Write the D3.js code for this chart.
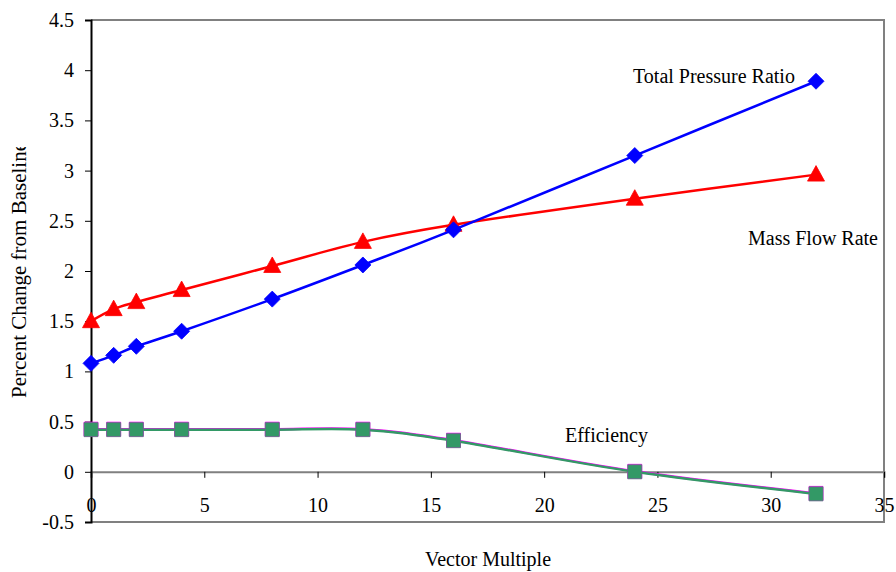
<!DOCTYPE html>
<html>
<head>
<meta charset="utf-8">
<script src="https://cdn.jsdelivr.net/npm/d3@7"></script>
<style>
  body { margin: 0; background: #fff; }
  svg text { font-family: "Liberation Serif", "Times New Roman", serif; }
</style>
</head>
<body>
<svg id="chart"></svg>
<script>
const vectorMultiple = [0, 1, 2, 4, 8, 12, 16, 24, 32];
const totalPressureRatio = [1.08, 1.16, 1.25, 1.40, 1.72, 2.06, 2.41, 3.15, 3.89];
const massFlowRate = [1.50, 1.62, 1.69, 1.81, 2.05, 2.29, 2.46, 2.72, 2.96];
const efficiencyA = [0.425, 0.425, 0.425, 0.425, 0.425, 0.425, 0.315, 0.005, -0.215];
const efficiencyB = [0.42, 0.42, 0.42, 0.42, 0.42, 0.42, 0.31, 0.00, -0.22];
const xTicks = [0, 5, 10, 15, 20, 25, 30, 35];
const yTicks = [-0.5, 0, 0.5, 1, 1.5, 2, 2.5, 3, 3.5, 4, 4.5];

const width = 896, height = 572;
const margin = {top: 20, right: 12, bottom: 50, left: 91};

const svg = d3.select("#chart")
    .attr("width", width)
    .attr("height", height);

const x = d3.scaleLinear().domain([0, 35]).range([margin.left, width - margin.right]);
const y = d3.scaleLinear().domain([-0.5, 4.5]).range([height - margin.bottom, margin.top]);

// plot frame (gray top, right, bottom)
svg.append("path")
    .attr("d", `M${x(0)},${y(4.5)}H${x(35)}V${y(-0.5)}H${x(0)}`)
    .attr("fill", "none")
    .attr("stroke", "#808080")
    .attr("stroke-width", 2);

// x axis sits on y = 0
const xAxis = svg.append("g")
    .attr("transform", `translate(0,${y(0)})`)
    .call(d3.axisBottom(x).tickValues(xTicks).tickSize(6).tickPadding(20).tickFormat(d3.format("d")));
xAxis.select(".domain").attr("stroke", "#808080").attr("stroke-width", 2);
xAxis.selectAll(".tick line").attr("stroke", "#000");
xAxis.selectAll("text").style("font-size", "20px").attr("fill", "#000");

// y axis
const yAxis = svg.append("g")
    .attr("transform", `translate(${x(0)},0)`)
    .call(d3.axisLeft(y).tickValues(yTicks).tickSize(6).tickPadding(11).tickFormat(d => d));
yAxis.select(".domain").attr("stroke", "#000").attr("stroke-width", 2);
yAxis.selectAll("text").style("font-size", "20px").attr("fill", "#000");

// axis titles
svg.append("text")
    .attr("x", 488)
    .attr("y", 566)
    .attr("text-anchor", "middle")
    .style("font-size", "20px")
    .text("Vector Multiple");

svg.append("clipPath").attr("id", "ytitle-clip")
    .append("rect").attr("x", 0).attr("y", 147).attr("width", 60).attr("height", 400);

svg.append("g").attr("clip-path", "url(#ytitle-clip)")
    .append("text")
    .attr("transform", "translate(26,398) rotate(-90)")
    .attr("text-anchor", "start")
    .style("font-size", "21px")
    .text("Percent Change from Baseline");

const line = d3.line()
    .x((d, i) => x(vectorMultiple[i]))
    .y(d => y(d))
    .curve(d3.curveCardinal.tension(0));

const series = [
    {values: efficiencyA, color: "#ff00ff", marker: "square", fill: "#ff00ff", stroke: "#ff00ff"},
    {values: efficiencyB, color: "#339966", marker: "square", fill: "#339966", stroke: "#6a6a8a"},
    {values: massFlowRate, color: "#ff0000", marker: "triangle", fill: "#ff0000", stroke: "#ff0000"},
    {values: totalPressureRatio, color: "#0000ff", marker: "diamond", fill: "#0000ff", stroke: "#0000ff"}
];

const markerPath = {
    square: "M-7,-7H7V7H-7Z",
    triangle: "M0,-9L8.5,6.5H-8.5Z",
    diamond: "M0,-8L8,0L0,8L-8,0Z"
};

series.forEach(s => {
    svg.append("path")
        .attr("d", line(s.values))
        .attr("fill", "none")
        .attr("stroke", s.color)
        .attr("stroke-width", 2.5);
    svg.append("g")
        .selectAll("path")
        .data(s.values)
        .join("path")
        .attr("transform", (d, i) => `translate(${x(vectorMultiple[i])},${y(d)})`)
        .attr("d", markerPath[s.marker])
        .attr("fill", s.fill)
        .attr("stroke", s.stroke)
        .attr("stroke-width", 0.8)
        .attr("stroke-linejoin", "round");
});

// series labels
const labels = [
    {text: "Total Pressure Ratio", x: 633, y: 83},
    {text: "Mass Flow Rate", x: 748, y: 245},
    {text: "Efficiency", x: 565, y: 442}
];
svg.append("g")
    .selectAll("text")
    .data(labels)
    .join("text")
    .attr("x", d => d.x)
    .attr("y", d => d.y)
    .style("font-size", "20px")
    .text(d => d.text);
</script>
</body>
</html>
